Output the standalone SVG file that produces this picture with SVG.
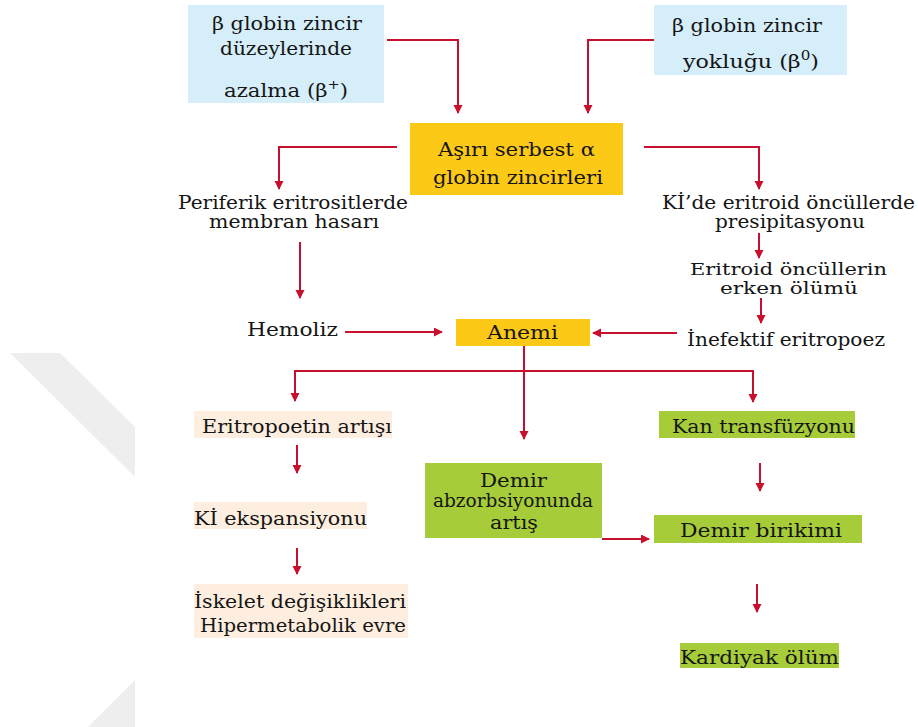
<svg xmlns="http://www.w3.org/2000/svg" width="918" height="727" viewBox="0 0 918 727">
<style>
.t{font-family:"DejaVu Serif","Liberation Serif",serif;font-size:19px;fill:#151515}
.n{font-size:18px}
.m{font-size:17px}
.blue{fill:#d5eefa}
.gold{fill:#fdc917}
.peach{fill:#fdeedf}
.green{fill:#a6cc3a}
.c{fill:none;stroke:#c8102e;stroke-width:2}
.wm{fill:#eeeeee}
</style>
<defs>
<marker id="ah" markerUnits="userSpaceOnUse" markerWidth="10" markerHeight="10" refX="8" refY="4.5" orient="auto">
<path d="M0,0 L9,4.5 L0,9 z" fill="#c8102e"/>
</marker>
</defs>
<rect width="918" height="727" fill="#ffffff"/>
<g id="watermark">
<polygon class="wm" points="10,353 60,353 135,427 135,477"/>
<polygon class="wm" points="135,680 135,727 88,727"/>
</g>
<g id="connectors">
<path class="c" d="M387,40 H458 V113" marker-end="url(#ah)"/>
<path class="c" d="M654,40 H588 V113" marker-end="url(#ah)"/>
<path class="c" d="M397,147 H279 V189" marker-end="url(#ah)"/>
<path class="c" d="M644,147 H759 V189" marker-end="url(#ah)"/>
<path class="c" d="M300,242 V298" marker-end="url(#ah)"/>
<path class="c" d="M345,332 H442" marker-end="url(#ah)"/>
<path class="c" d="M759,233 V258" marker-end="url(#ah)"/>
<path class="c" d="M761,298 V323" marker-end="url(#ah)"/>
<path class="c" d="M677,333 H593" marker-end="url(#ah)"/>
<path class="c" d="M524,371 H295 V401" marker-end="url(#ah)"/>
<path class="c" d="M524,371 H753 V402" marker-end="url(#ah)"/>
<path class="c" d="M524,346 V439" marker-end="url(#ah)"/>
<path class="c" d="M297,445 V473" marker-end="url(#ah)"/>
<path class="c" d="M297,548 V574" marker-end="url(#ah)"/>
<path class="c" d="M602,539 H649" marker-end="url(#ah)"/>
<path class="c" d="M760,463 V491" marker-end="url(#ah)"/>
<path class="c" d="M757,584 V612" marker-end="url(#ah)"/>
</g>
<g id="beta-plus">
<rect class="blue" x="188" y="5" width="196" height="98"/>
<text class="t" x="212" y="30" textLength="150" lengthAdjust="spacingAndGlyphs">β globin zincir</text>
<text class="t" x="220" y="55" textLength="132" lengthAdjust="spacingAndGlyphs">düzeylerinde</text>
<text class="t" x="224" y="97" textLength="124" lengthAdjust="spacingAndGlyphs">azalma (β<tspan dy="-8" font-size="13">+</tspan><tspan dy="8">)</tspan></text>
</g>
<g id="beta-zero">
<rect class="blue" x="654" y="5" width="193" height="70"/>
<text class="t" x="672" y="32" textLength="150" lengthAdjust="spacingAndGlyphs">β globin zincir</text>
<text class="t" x="683" y="68" textLength="136" lengthAdjust="spacingAndGlyphs">yokluğu (β<tspan dy="-8" font-size="13">0</tspan><tspan dy="8">)</tspan></text>
</g>
<g id="alpha">
<rect class="gold" x="410" y="123" width="213" height="72"/>
<text class="t" x="438" y="156" textLength="157" lengthAdjust="spacingAndGlyphs">Aşırı serbest α</text>
<text class="t" x="433" y="184" textLength="170" lengthAdjust="spacingAndGlyphs">globin zincirleri</text>
</g>
<g id="membran">
<text class="t n" x="178" y="209" textLength="230" lengthAdjust="spacingAndGlyphs">Periferik eritrositlerde</text>
<text class="t n" x="209" y="228" textLength="170" lengthAdjust="spacingAndGlyphs">membran hasarı</text>
</g>
<g id="hemoliz">
<text class="t" x="247" y="336" textLength="91" lengthAdjust="spacingAndGlyphs">Hemoliz</text>
</g>
<g id="presipitasyon">
<text class="t n" x="662" y="209" textLength="253" lengthAdjust="spacingAndGlyphs">Kİ’de eritroid öncüllerde</text>
<text class="t n" x="715" y="228" textLength="150" lengthAdjust="spacingAndGlyphs">presipitasyonu</text>
</g>
<g id="erken-olum">
<text class="t m" x="690" y="275" textLength="197" lengthAdjust="spacingAndGlyphs">Eritroid öncüllerin</text>
<text class="t m" x="720" y="294" textLength="138" lengthAdjust="spacingAndGlyphs">erken ölümü</text>
</g>
<g id="inefektif">
<text class="t" x="687" y="346" textLength="198" lengthAdjust="spacingAndGlyphs">İnefektif eritropoez</text>
</g>
<g id="anemi">
<rect class="gold" x="456" y="319" width="134" height="27"/>
<text class="t" x="487" y="339" textLength="71" lengthAdjust="spacingAndGlyphs">Anemi</text>
</g>
<g id="eritropoetin">
<rect class="peach" x="194" y="411" width="198" height="27"/>
<text class="t" x="202" y="433" textLength="190" lengthAdjust="spacingAndGlyphs">Eritropoetin artışı</text>
</g>
<g id="ki-ekspansiyon">
<rect class="peach" x="194" y="502" width="173" height="27"/>
<text class="t" x="194" y="525" textLength="173" lengthAdjust="spacingAndGlyphs">Kİ ekspansiyonu</text>
</g>
<g id="iskelet">
<rect class="peach" x="194" y="584" width="214" height="54"/>
<text class="t" x="194" y="608" textLength="212" lengthAdjust="spacingAndGlyphs">İskelet değişiklikleri</text>
<text class="t" x="200" y="632" textLength="206" lengthAdjust="spacingAndGlyphs">Hipermetabolik evre</text>
</g>
<g id="demir-abz">
<rect class="green" x="425" y="463" width="177" height="75"/>
<text class="t" x="480" y="487" textLength="67" lengthAdjust="spacingAndGlyphs">Demir</text>
<text class="t" x="433" y="507" textLength="160" lengthAdjust="spacingAndGlyphs">abzorbsiyonunda</text>
<text class="t" x="490" y="529" textLength="48" lengthAdjust="spacingAndGlyphs">artış</text>
</g>
<g id="kan">
<rect class="green" x="659" y="411" width="196" height="27"/>
<text class="t" x="672" y="433" textLength="183" lengthAdjust="spacingAndGlyphs">Kan transfüzyonu</text>
</g>
<g id="demir-birikimi">
<rect class="green" x="654" y="515" width="208" height="28"/>
<text class="t" x="680" y="537" textLength="162" lengthAdjust="spacingAndGlyphs">Demir birikimi</text>
</g>
<g id="kardiyak">
<rect class="green" x="680" y="643" width="159" height="25"/>
<text class="t" x="680" y="664" textLength="159" lengthAdjust="spacingAndGlyphs">Kardiyak ölüm</text>
</g>
</svg>
